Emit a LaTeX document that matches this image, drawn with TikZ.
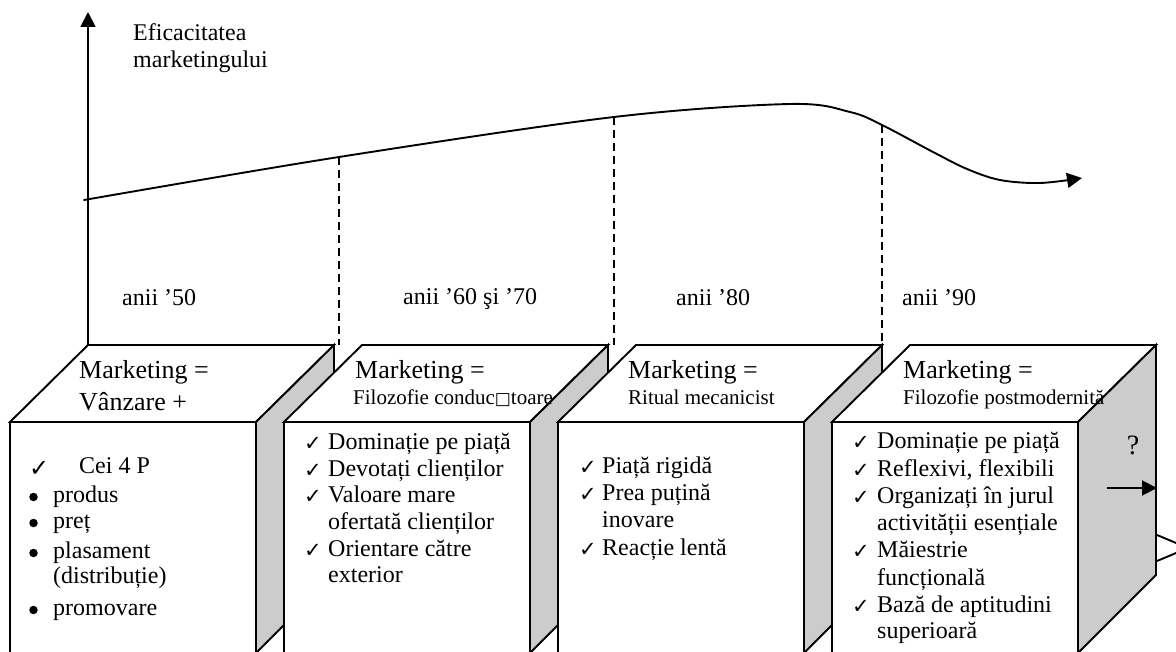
\documentclass[tikz,border=0pt]{standalone}
\usepackage{fontspec}
\setmainfont{Liberation Serif}
\newfontfamily\symfont{DejaVu Sans}
\usetikzlibrary{arrows.meta}

\definecolor{sidegray}{RGB}{204,204,204}

\begin{document}
\begin{tikzpicture}[x=1pt,y=-1pt,
  edge/.style={line width=1.9pt, line join=miter},
  guide/.style={line width=1.6pt, dash pattern=on 8pt off 5pt},
  arr/.style={line width=1.9pt, -{Triangle[length=15pt,width=15pt]}},
  txt/.style={inner sep=0pt, anchor=base west, font=\fontsize{24}{27}\selectfont},
  hdr/.style={inner sep=0pt, anchor=base west, font=\fontsize{26}{30}\selectfont},
  sub/.style={inner sep=0pt, anchor=base west, font=\fontsize{21}{24}\selectfont},
  chk/.style={inner sep=0pt, anchor=base west, font=\symfont\fontsize{21}{24}\selectfont},
  bigchk/.style={inner sep=0pt, anchor=base west, font=\symfont\fontsize{24}{26}\selectfont},
  bul/.style={circle, fill=black, inner sep=0pt, minimum size=8.5pt}]

\useasboundingbox (0,0) rectangle (1176,652);
\clip (0,0) rectangle (1176,652);

% --- axis and effectiveness curve ---
\coordinate (origin) at (88,345);
\coordinate (axtop) at (88,12);
\draw[arr] (origin) -- (axtop);
\node[txt] (ylab1) at (133,41) {Eficacitatea};
\node[txt] (ylab2) at (133,68) {marketingului};

\coordinate (c0) at (84,200);
\coordinate (c1) at (339,157);
\coordinate (c2) at (614,117);
\coordinate (c3) at (882,125);
\coordinate (cend) at (1082,178);
\draw[arr, line cap=round] plot[smooth, tension=0.55] coordinates
  {(c0) (c1) (c2) (790,104) (850,112) (c3) (933,152) (967,169) (1000,180) (1040,183) (cend)};

% --- period separators ---
\coordinate (b1) at (339,345);
\coordinate (b2) at (614,345);
\coordinate (b3) at (882,345);
\draw[guide] (c1) -- (b1);
\draw[guide] (c2) -- (b2);
\draw[guide] (c3) -- (b3);

\node[txt] (p1) at (122,306) {anii ’50};
\node[txt] (p2) at (403,305) {anii ’60 şi ’70};
\node[txt] (p3) at (676,306) {anii ’80};
\node[txt] (p4) at (902,306) {anii ’90};

% --- the four blocks: top, side and front faces ---
\foreach \L in {10,284,558,832}{
  \pgfmathsetmacro\R{\L+246}
  \draw[edge, fill=white] (\L,422) -- (\L+78,345) -- (\R+78,345) -- (\R,422) -- cycle;
  \draw[edge, fill=sidegray] (\R,422) -- (\R+78,345) -- (\R+78,575) -- (\R,653) -- cycle;
  \draw[edge, fill=white] (\L,422) rectangle (\R,680);
}

% --- block 1 ---
\node[hdr] (h1a) at (79,379) {Marketing =};
\node[hdr] (h1b) at (79,410) {Vânzare +};
\node[bigchk] (k1a) at (29,476) {✓};
\node[txt] (t1a) at (79,473) {Cei 4 P};
\node[bul] (u1a) at (33.5,497) {};
\node[txt] (t1b) at (53,502) {produs};
\node[bul] (u1b) at (33.5,523) {};
\node[txt] (t1c) at (53,528) {preț};
\node[bul] (u1c) at (33.5,553) {};
\node[txt] (t1d) at (53,558) {plasament};
\node[txt] (t1e) at (53,583) {(distribuție)};
\node[bul] (u1d) at (33.5,610) {};
\node[txt] (t1f) at (53,615) {promovare};

% --- block 2 ---
\node[hdr] (h2a) at (355,378) {Marketing =};
\node[sub] (h2b) at (353,405) {Filozofie conduc{\symfont\fontsize{17}{20}\selectfont □}toare};
\node[chk] (k2a) at (304,450) {✓};
\node[txt] (t2a) at (328,449) {Dominație pe piață};
\node[chk] (k2b) at (304,477) {✓};
\node[txt] (t2b) at (328,476) {Devotați clienților};
\node[chk] (k2c) at (304,503) {✓};
\node[txt] (t2c) at (328,502) {Valoare mare};
\node[txt] (t2d) at (328,529) {ofertată clienților};
\node[chk] (k2d) at (304,557) {✓};
\node[txt] (t2e) at (328,556) {Orientare către};
\node[txt] (t2f) at (328,582) {exterior};

% --- block 3 ---
\node[hdr] (h3a) at (628,378) {Marketing =};
\node[sub] (h3b) at (628,405) {Ritual mecanicist};
\node[chk] (k3a) at (579,474) {✓};
\node[txt] (t3a) at (602,473) {Piață rigidă};
\node[chk] (k3b) at (579,501) {✓};
\node[txt] (t3b) at (602,500) {Prea puțină};
\node[txt] (t3c) at (602,527) {inovare};
\node[chk] (k3c) at (579,556) {✓};
\node[txt] (t3d) at (602,555) {Reacție lentă};

% --- block 4 ---
\node[hdr] (h4a) at (903,378) {Marketing =};
\node[sub] (h4b) at (903,405) {Filozofie postmodernită};
\node[chk] (k4a) at (852,449) {✓};
\node[txt] (t4a) at (877,448) {Dominație pe piață};
\node[chk] (k4b) at (852,477) {✓};
\node[txt] (t4b) at (877,476) {Reflexivi, flexibili};
\node[chk] (k4c) at (852,504) {✓};
\node[txt] (t4c) at (877,503) {Organizați în jurul};
\node[txt] (t4d) at (877,530) {activității esențiale};
\node[chk] (k4d) at (852,558) {✓};
\node[txt] (t4e) at (877,557) {Măiestrie};
\node[txt] (t4f) at (877,585) {funcțională};
\node[chk] (k4e) at (852,613) {✓};
\node[txt] (t4g) at (877,612) {Bază de aptitudini};
\node[txt] (t4h) at (877,638) {superioară};

% --- what comes next, on the last side face ---
\node[inner sep=0pt, anchor=base, font=\fontsize{28}{30}\selectfont] (next) at (1133,454) {?};
\coordinate (na) at (1107,488);
\coordinate (nb) at (1157,488);
\draw[arr] (na) -- (nb);
\coordinate (w1) at (1157,535);
\coordinate (w2) at (1188,548);
\coordinate (w3) at (1157,561);
\draw[edge] (w1) -- (w2) -- (w3);

\end{tikzpicture}
\end{document}
